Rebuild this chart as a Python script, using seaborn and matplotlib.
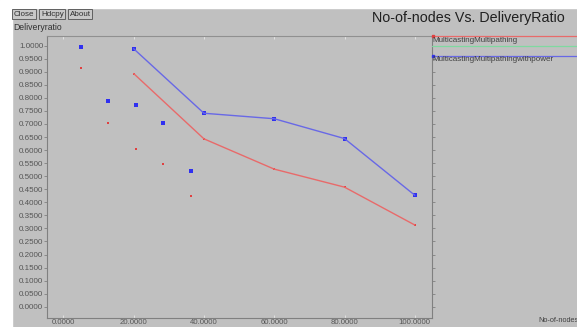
import numpy as np
import pandas as pd
import matplotlib
matplotlib.use("Agg")
import matplotlib.pyplot as plt
import seaborn as sns
from matplotlib.lines import Line2D
from matplotlib.ticker import FormatStrFormatter

# line series (No-of-nodes vs delivery ratio)
nodes = [20, 40, 60, 80, 100]
mm_ratio = [0.893, 0.643, 0.527, 0.458, 0.313]
mmp_ratio = [0.988, 0.741, 0.720, 0.644, 0.427]

# loose points drawn without lines
pt_nodes = [5.0, 12.6, 20.6, 28.3, 36.2]
pt_red = [0.916, 0.703, 0.605, 0.548, 0.425]
pt_blue = [0.996, 0.787, 0.772, 0.705, 0.521]

names = ["MulticastingMultipathing", "MulticastingMultipathingwithpower"]
y_ticks = [round(v * 0.05, 2) for v in range(21)]
x_ticks = [0, 20, 40, 60, 80, 100]

BG = "#c0c0c0"
RED = "#e86a6a"
BLUE = "#6868e6"
GREEN = "#7fd9a0"

sns.set_style("ticks", {"axes.facecolor": BG, "figure.facecolor": BG})
plt.rcParams["font.family"] = ["Liberation Sans", "DejaVu Sans"]

W, H = 577, 327
fig = plt.figure(figsize=(W / 100, H / 100), dpi=100)
fig.patch.set_facecolor(BG)


def fx(px):
    return px / W


def fy(py):
    return 1 - py / H


# white margin strips at left and top (screen capture border)
fig.add_artist(plt.Rectangle((0, 0), fx(12), 1, transform=fig.transFigure,
                             color="white", zorder=0))
fig.add_artist(plt.Rectangle((0, fy(8)), 1, 1 - fy(8), transform=fig.transFigure,
                             color="white", zorder=0))

ax = fig.add_axes([fx(46.7), fy(317.7), fx(432) - fx(46.7), fy(35.7) - fy(317.7)])
ax.set_facecolor(BG)

lines_df = pd.DataFrame({
    "nodes": nodes * 2,
    "ratio": mm_ratio + mmp_ratio,
    "series": [names[0]] * len(nodes) + [names[1]] * len(nodes),
})
pts_df = pd.DataFrame({
    "nodes": pt_nodes * 2,
    "ratio": pt_red + pt_blue,
    "series": [names[0]] * len(pt_nodes) + [names[1]] * len(pt_nodes),
})
pal = {names[0]: RED, names[1]: BLUE}

sns.lineplot(data=lines_df, x="nodes", y="ratio", hue="series", palette=pal,
             linewidth=1, legend=False, ax=ax)
sns.scatterplot(data=pts_df[pts_df.series == names[0]], x="nodes", y="ratio",
                color="#e04040", marker="s", s=2.5, linewidth=0, ax=ax)
sns.scatterplot(data=pts_df[pts_df.series == names[1]], x="nodes", y="ratio",
                color="#3030f0", marker="s", s=5.5, linewidth=0, ax=ax)
sns.scatterplot(data=lines_df[lines_df.series == names[0]], x="nodes", y="ratio",
                color="#e04040", marker="s", s=2.5, linewidth=0, ax=ax)
sns.scatterplot(data=lines_df[lines_df.series == names[1]], x="nodes", y="ratio",
                color="#3030f0", marker="s", s=5.5, linewidth=0, ax=ax)

ax.set_xlim(-4.75, 104.9)
ax.set_ylim(-0.042, 1.038)
ax.set_xticks(x_ticks)
ax.set_yticks(y_ticks)
ax.xaxis.set_major_formatter(FormatStrFormatter("%.4f"))
ax.yaxis.set_major_formatter(FormatStrFormatter("%.4f"))
ax.set_xlabel("")
ax.set_ylabel("")
ax.tick_params(axis="y", which="both", direction="out", length=2, width=0.6,
               color="#808080", labelsize=5.8, labelcolor="#555555", pad=0.5,
               right=True)
ax.tick_params(axis="x", which="both", direction="in", length=2, width=0.6,
               color="#e8e8e8", labelsize=5.6, labelcolor="#555555", pad=0.8,
               top=True)
for side in ["left", "bottom", "right"]:
    ax.spines[side].set_color("#808080")
    ax.spines[side].set_linewidth(0.8)
ax.spines["top"].set_color("#909090")
ax.spines["top"].set_linestyle((0, (3, 1)))
ax.spines["top"].set_linewidth(0.8)

# legend panel to the right of the plot
for py, col in [(35.7, RED), (45.7, GREEN), (55.7, BLUE)]:
    fig.add_artist(Line2D([fx(432), 1], [fy(py), fy(py)], transform=fig.transFigure,
                          color=col, linewidth=0.9))
fig.add_artist(Line2D([fx(432.5)], [fy(35.7)], transform=fig.transFigure,
                      marker="s", markersize=1.5, color="#e04040", linewidth=0))
fig.add_artist(Line2D([fx(432.5)], [fy(55.7)], transform=fig.transFigure,
                      marker="s", markersize=2, color="#3030f0", linewidth=0))
fig.text(fx(432), fy(40), names[0], fontsize=5.8, color="#404040",
         ha="left", va="center")
fig.text(fx(432), fy(59.5), names[1], fontsize=5.8, color="#404040",
         ha="left", va="center")

# title and axis captions
fig.text(fx(372), fy(18), "No-of-nodes Vs. DeliveryRatio", fontsize=10.3,
         color="#202020", ha="left", va="center")
fig.text(fx(13), fy(27), "Deliveryratio", fontsize=6.2, color="#303030",
         ha="left", va="center")
fig.text(fx(538), fy(320), "No-of-nodes", fontsize=5.3, color="#404040",
         ha="left", va="center")

# window buttons
for label, px in [("Close", 13.5), ("Hdcpy", 41), ("About", 69.5)]:
    fig.text(fx(px), fy(14), label, fontsize=5.8, color="#303030", ha="left",
             va="center",
             bbox=dict(boxstyle="square,pad=0.2", facecolor="#c8c8c8",
                       edgecolor="#606060", linewidth=0.7))

fig.savefig("out.png", dpi=100, facecolor=BG)
